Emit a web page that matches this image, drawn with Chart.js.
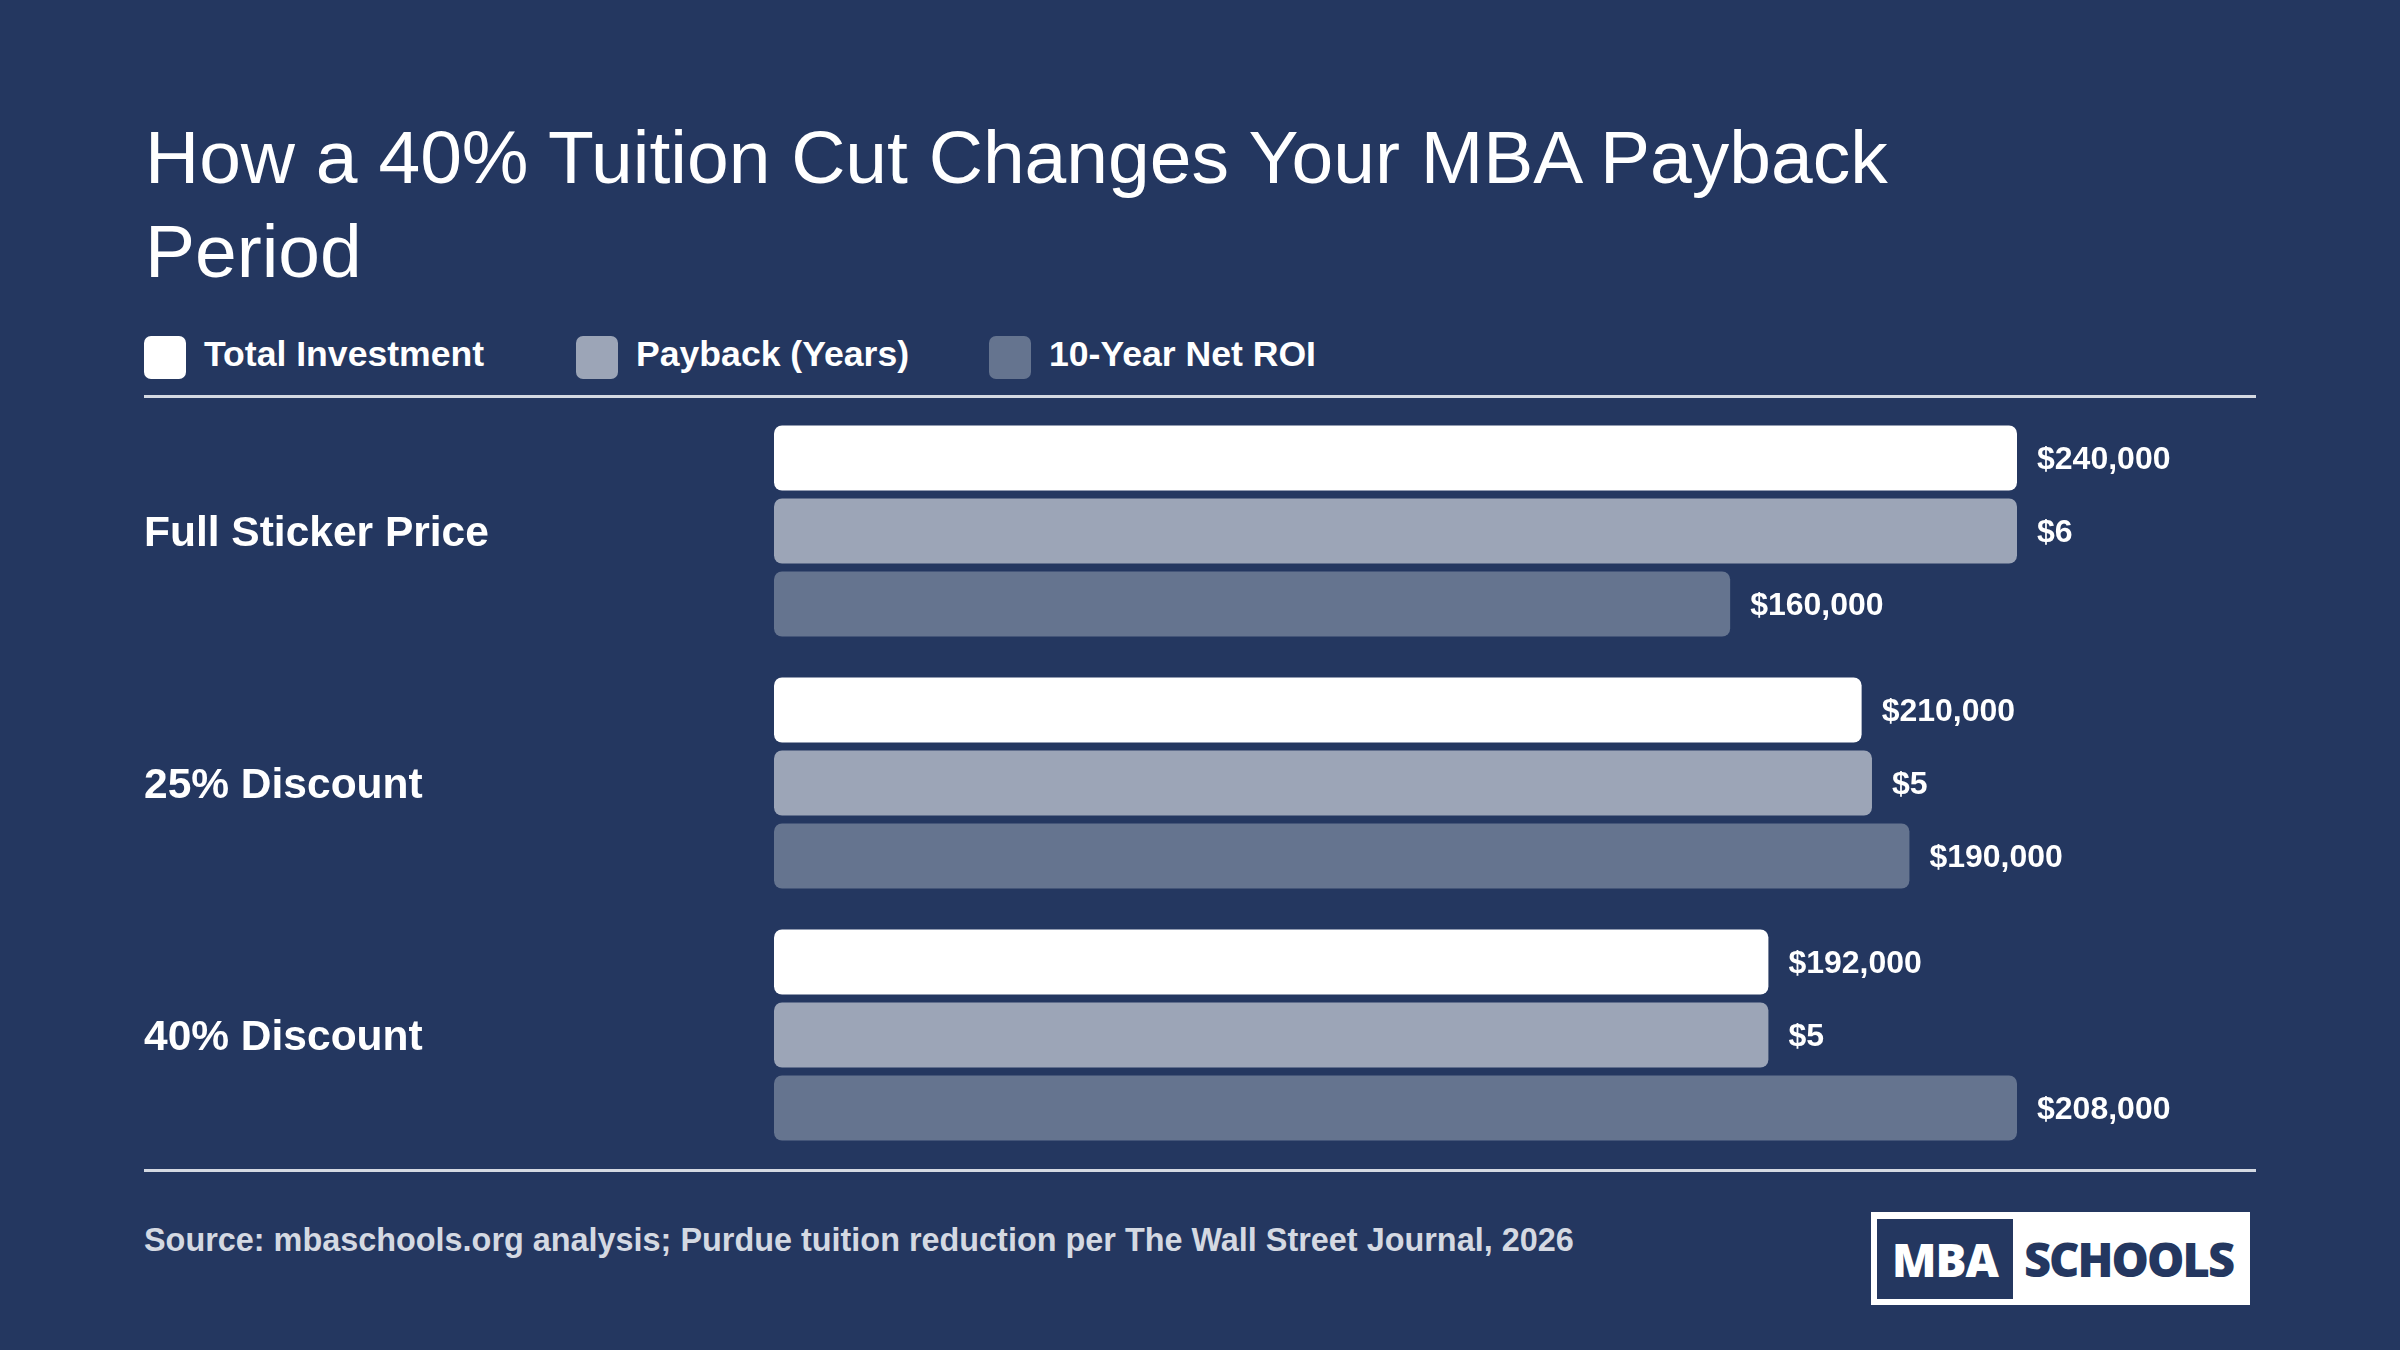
<!DOCTYPE html>
<html>
<head>
<meta charset="utf-8">
<script src="https://cdn.jsdelivr.net/npm/chart.js@4/dist/chart.umd.min.js"></script>
<style>
  html, body { margin: 0; padding: 0; }
  body { width: 2400px; height: 1350px; background: #243760; position: relative; overflow: hidden; font-family: "Liberation Sans", Arial, sans-serif; }
  #title { position: absolute; left: 145px; top: 110px; color: #ffffff; font-size: 75px; line-height: 94px; font-weight: 400; white-space: nowrap; }
  #legend { position: absolute; left: 144px; top: 336px; height: 43px; display: flex; align-items: center; }
  .li { display: flex; align-items: center; }
  .sw { width: 42px; height: 43px; border-radius: 7px; margin-right: 18px; }
  .lt { color: #ffffff; font-size: 35.6px; font-weight: 700; position: relative; top: -3px; white-space: nowrap; }
  .rule { position: absolute; left: 144px; width: 2112px; height: 3px; background: #d4d9e2; }
  #source { position: absolute; left: 144px; top: 1222px; color: #d4d9e2; font-size: 32.4px; font-weight: 700; white-space: nowrap; }
  #logo { position: absolute; left: 1871px; top: 1212px; width: 379px; height: 93px; background: #ffffff; box-sizing: border-box; }
  #logo .mba { position: absolute; left: 6px; top: 7px; width: 136px; height: 80px; background: #243760; color: #fff; font-family: "Open Sans", sans-serif; font-weight: 800; font-size: 46px; line-height: 80px; text-align: center; letter-spacing: -1px; }
  #logo .sch { position: absolute; left: 150px; top: 7px; width: 215px; height: 80px; color: #243760; font-family: "Open Sans", sans-serif; font-weight: 800; font-size: 47px; line-height: 80px; text-align: center; letter-spacing: -2px; }
  #chart { position: absolute; left: 0; top: 0; }
</style>
</head>
<body>
<div id="title">How a 40% Tuition Cut Changes Your MBA Payback<br>Period</div>
<div id="legend"></div>
<div class="rule" style="top:395px"></div>
<div class="rule" style="top:1169px"></div>
<div id="source">Source: mbaschools.org analysis; Purdue tuition reduction per The Wall Street Journal, 2026</div>
<div id="logo"><div class="mba">MBA</div><div class="sch">SCHOOLS</div></div>
<canvas id="chart" width="2400" height="1350"></canvas>
<script>
const categories = ["Full Sticker Price", "25% Discount", "40% Discount"];
const seriesNames = ["Total Investment", "Payback (Years)", "10-Year Net ROI"];
const totalInvestment = [240000, 210000, 192000];
const paybackYears = [6, 5.3, 4.8];
const netROI = [160000, 190000, 208000];
const seriesColors = ["#ffffff", "#9ca5b7", "#65748f"];

const seriesValues = [totalInvestment, paybackYears, netROI];
const axisIds = ["x", "x2", "x3"];
const legendGaps = [92, 80, 0];

// legend
const legend = document.getElementById('legend');
seriesNames.forEach((n, i) => {
  const d = document.createElement('div'); d.className = 'li';
  d.style.marginRight = legendGaps[i] + 'px';
  d.innerHTML = '<div class="sw" style="background:' + seriesColors[i] + '"></div><div class="lt">' + n + '</div>';
  legend.appendChild(d);
});

const fmt = v => '$' + Math.round(v).toLocaleString('en-US');

const valueLabels = {
  id: 'valueLabels',
  afterDatasetsDraw(chart) {
    const ctx = chart.ctx;
    ctx.save();
    ctx.fillStyle = '#ffffff';
    ctx.font = '700 32px "Liberation Sans", Arial, sans-serif';
    ctx.textBaseline = 'middle';
    ctx.textAlign = 'left';
    chart.data.datasets.forEach((ds, di) => {
      const meta = chart.getDatasetMeta(di);
      meta.data.forEach((el, i) => {
        ctx.fillText(fmt(ds.data[i]), el.x + 20, el.y + 2.5);
      });
    });
    ctx.restore();
  }
};

const scales = {
  y: {
    type: 'category',
    grid: { display: false },
    border: { display: false },
    ticks: {
      color: '#ffffff',
      font: { family: '"Liberation Sans", Arial, sans-serif', size: 42.5, weight: '700' },
      crossAlign: 'far',
      padding: 0,
      labelOffset: 3
    },
    afterFit(axis) { axis.width = 630; }
  }
};
axisIds.forEach((id, i) => {
  scales[id] = { type: 'linear', display: false, min: 0, max: Math.max(...seriesValues[i]) };
});

new Chart(document.getElementById('chart'), {
  type: 'bar',
  data: {
    labels: categories,
    datasets: seriesNames.map((n, i) => ({
      label: n,
      data: seriesValues[i],
      backgroundColor: seriesColors[i],
      xAxisID: axisIds[i],
      borderRadius: 8,
      borderSkipped: false,
      barPercentage: 0.89,
      categoryPercentage: 0.869
    }))
  },
  options: {
    indexAxis: 'y',
    responsive: false,
    animation: false,
    layout: { padding: { left: 144, top: 405, right: 383, bottom: 189 } },
    plugins: { legend: { display: false }, tooltip: { enabled: false } },
    scales
  },
  plugins: [valueLabels]
});
</script>
</body>
</html>
